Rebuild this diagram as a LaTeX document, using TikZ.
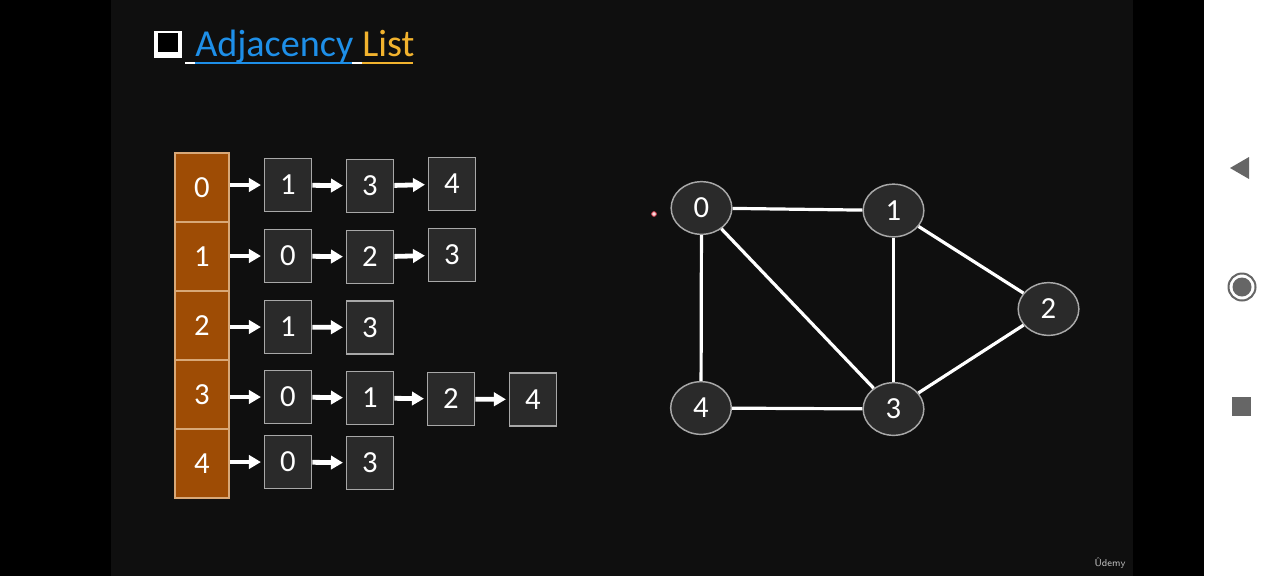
\documentclass[tikz,border=0pt]{standalone}
\usepackage{fontspec}
\setmainfont{Carlito}
\usetikzlibrary{arrows.meta,shapes.geometric}
\definecolor{slide}{HTML}{0F0F0F}
\definecolor{cellor}{HTML}{9E4C05}
\definecolor{cellbd}{HTML}{D8A878}
\definecolor{boxfill}{HTML}{2A2A2A}
\definecolor{boxbd}{HTML}{A8A8A8}
\definecolor{tblue}{HTML}{1E8FE8}
\definecolor{torange}{HTML}{F2B32E}
\definecolor{navgray}{HTML}{666666}
\definecolor{dotred}{HTML}{D84050}
\tikzset{
 digit/.style={text=white, font=\fontsize{23}{23}\selectfont},
 cell/.style={digit, draw=cellbd, fill=cellor, line width=0.8pt, minimum width=40.5pt, minimum height=51.75pt, inner sep=0pt},
 lbox/.style={digit, draw=boxbd, fill=boxfill, line width=1.1pt, minimum width=35.5pt, minimum height=39.5pt, inner sep=0pt},
 gnode/.style={digit, ellipse, draw=boxbd, fill=boxfill, line width=1.1pt, minimum width=45.5pt, minimum height=39.5pt, inner sep=0pt},
 gedge/.style={white, line width=2.4pt},
 link/.style={white, line width=3.6pt, -{Triangle[length=9pt,width=10pt]}, shorten >=2pt, shorten <=0pt},
 ttl/.style={inner sep=0pt, anchor=base west, font=\fontsize{28.6}{28.6}\selectfont}
}
\begin{document}
\begin{tikzpicture}[x=0.75pt,y=-0.75pt]
\useasboundingbox (0,0) rectangle (1280,576);
% backgrounds
\fill[black] (0,0) rectangle (1280,576);
\fill[slide] (111,0) rectangle (1133,576);
\fill[white] (1204,0) rectangle (1280,576);
% title
\fill[white] (154,31) rectangle (182,58);
\fill[black] (158,33) rectangle (178,52);
\node[ttl, text=tblue] (tA) at (195,56) {Adjacency};
\node[ttl, text=torange] (tL) at (362,56) {List};
\draw[white, line width=1.5pt] (185,63) -- (195,63);
\draw[tblue, line width=1.5pt] (195,63) -- (352,63);
\draw[white, line width=1.5pt] (352,63) -- (362,63);
\draw[torange, line width=1.5pt] (362,63) -- (413,63);
% array
\node[cell] (a0) at (202,187.5) {0};
\node[cell] (a1) at (202,256.5) {1};
\node[cell] (a2) at (202,325.5) {2};
\node[cell] (a3) at (202,394.5) {3};
\node[cell] (a4) at (202,463.5) {4};
% lists
\node[lbox] (b01) at (288,185) {1};
\node[lbox] (b02) at (370,186) {3};
\node[lbox] (b03) at (452,184) {4};
\node[lbox] (b11) at (288,256) {0};
\node[lbox] (b12) at (370,257) {2};
\node[lbox] (b13) at (452,255) {3};
\node[lbox] (b21) at (288,327) {1};
\node[lbox] (b22) at (370,327.5) {3};
\node[lbox] (b31) at (288,397) {0};
\node[lbox] (b32) at (370,398) {1};
\node[lbox] (b33) at (451,399) {2};
\node[lbox] (b34) at (533,399.5) {4};
\node[lbox] (b41) at (288,462) {0};
\node[lbox] (b42) at (370,463) {3};
% arrows
\draw[link] (a0.east |- b01.west) -- (b01.west);
\draw[link] (b01) -- (b02);
\draw[link] (b02) -- (b03);
\draw[link] (a1.east |- b11.west) -- (b11.west);
\draw[link] (b11) -- (b12);
\draw[link] (b12) -- (b13);
\draw[link] (a2.east |- b21.west) -- (b21.west);
\draw[link] (b21) -- (b22);
\draw[link] (a3.east |- b31.west) -- (b31.west);
\draw[link] (b31) -- (b32);
\draw[link] (b32) -- (b33);
\draw[link] (b33) -- (b34);
\draw[link] (a4.east |- b41.west) -- (b41.west);
\draw[link] (b41) -- (b42);
% graph
\node[gnode] (g0) at (701.5,208) {0};
\node[gnode] (g1) at (893.5,210.5) {1};
\node[gnode] (g2) at (1048.5,309) {2};
\node[gnode] (g3) at (893.5,409) {3};
\node[gnode] (g4) at (701,408) {4};
\draw[gedge] (g0) -- (g1);
\draw[gedge] (g0) -- (g4);
\draw[gedge] (g0) -- (g3);
\draw[gedge] (g1) -- (g3);
\draw[gedge] (g1) -- (g2);
\draw[gedge] (g2) -- (g3);
\draw[gedge] (g4) -- (g3);
% cursor dot
\node[circle, draw=dotred, fill=white!80!dotred, line width=0.6pt, minimum size=3.5pt, inner sep=0pt] (dot) at (654,214) {};
% watermark
\node[text=white!75!black, font=\fontsize{7.5}{7.5}\selectfont\sffamily, inner sep=0pt] (ud) at (1110,563) {Ûdemy};
% nav buttons
\fill[navgray] (1230,168) -- (1249,157) -- (1249,179) -- cycle;
\draw[navgray, line width=1.5pt] (1242,287) circle (13.5);
\fill[navgray] (1242,287) circle (9.5);
\fill[navgray] (1232,397) rectangle (1251,416);
\end{tikzpicture}
\end{document}
